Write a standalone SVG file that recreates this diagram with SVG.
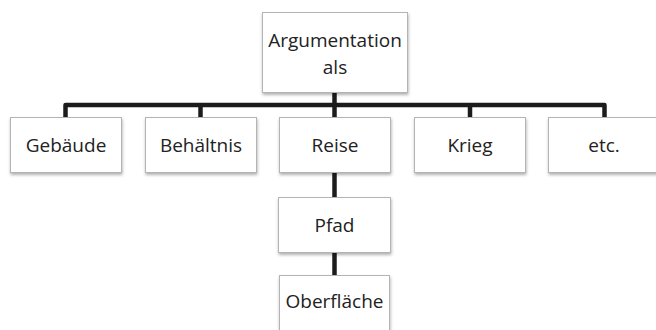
<svg xmlns="http://www.w3.org/2000/svg" width="656" height="330" viewBox="0 0 656 330">
  <style>
    .box { fill: #ffffff; stroke: #b4b4b4; stroke-width: 1; filter: url(#shadow); }
    .label { font-family: "Open Sans", "Noto Sans", "DejaVu Sans", sans-serif; font-size: 19px; fill: #222222; text-anchor: middle; }
    .wire { fill: none; stroke: #1c1c1c; stroke-width: 4.5; stroke-linejoin: round; }
  </style>
  <defs>
    <filter id="shadow" x="-10%" y="-10%" width="120%" height="130%">
      <feDropShadow dx="0.5" dy="2" stdDeviation="1.5" flood-color="#000000" flood-opacity="0.3"/>
    </filter>
  </defs>
  <rect width="656" height="330" fill="#ffffff"/>

  <g id="connectors">
    <path class="wire" d="M334.5 92 V105"/>
    <path class="wire" d="M65.5 117 V105 H604.5 V117"/>
    <path class="wire" d="M200.5 105 V117"/>
    <path class="wire" d="M470 105 V117"/>
    <path class="wire" d="M334.5 105 V197"/>
    <path class="wire" d="M334.5 252 V275"/>
  </g>

  <g id="root">
    <rect class="box" x="262.5" y="12.5" width="145" height="80"/>
    <text class="label" x="335" y="47">Argumentation</text>
    <text class="label" x="335" y="74">als</text>
  </g>

  <g id="gebaeude">
    <rect class="box" x="10.5" y="117.5" width="111" height="55"/>
    <text class="label" x="66" y="152">Gebäude</text>
  </g>

  <g id="behaeltnis">
    <rect class="box" x="145.5" y="117.5" width="111" height="55"/>
    <text class="label" x="201" y="152">Behältnis</text>
  </g>

  <g id="reise">
    <rect class="box" x="279.5" y="117.5" width="111" height="55"/>
    <text class="label" x="335" y="152">Reise</text>
  </g>

  <g id="krieg">
    <rect class="box" x="414.5" y="117.5" width="111" height="55"/>
    <text class="label" x="470" y="152">Krieg</text>
  </g>

  <g id="etc">
    <rect class="box" x="548.5" y="117.5" width="111" height="55"/>
    <text class="label" x="604" y="152">etc.</text>
  </g>

  <g id="pfad">
    <rect class="box" x="278.5" y="197.5" width="112" height="55"/>
    <text class="label" x="334.5" y="232">Pfad</text>
  </g>

  <g id="oberflaeche">
    <rect class="box" x="279.5" y="275.5" width="110" height="60"/>
    <text class="label" x="334.5" y="308">Oberfläche</text>
  </g>
</svg>
